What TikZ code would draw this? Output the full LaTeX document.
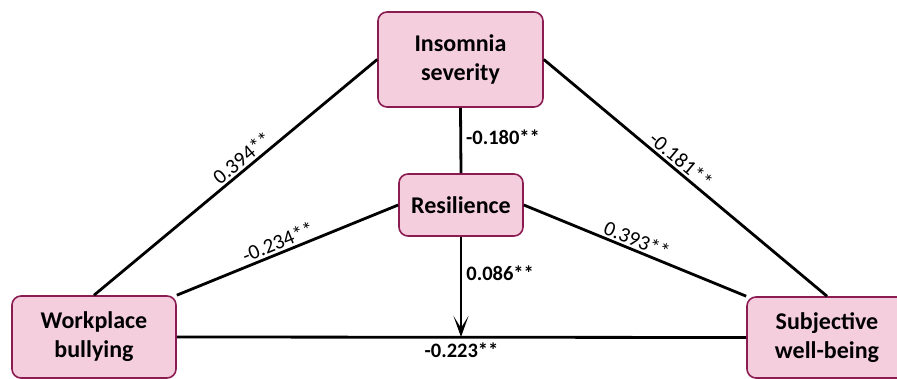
\documentclass[tikz,border=0pt]{standalone}
\usepackage{fontspec}
\setmainfont{Carlito}
\usetikzlibrary{arrows.meta}
\definecolor{boxfill}{RGB}{245,206,222}
\definecolor{boxdraw}{RGB}{138,28,82}
\begin{document}
\begin{tikzpicture}[x=1pt,y=-1pt,
  box/.style={draw=boxdraw, fill=boxfill, line width=1.6pt, rounded corners=9pt, align=center,
    font=\fontsize{24}{29}\selectfont\bfseries, inner sep=0pt},
  link/.style={line width=2.8pt, black},
  lab/.style={font=\fontsize{21}{24}\selectfont, inner sep=1pt},
  blab/.style={font=\fontsize{20.5}{24}\selectfont\bfseries, inner sep=2pt}]
\useasboundingbox (0,0) rectangle (897,379);
\path (460.5,59.5) node[box, minimum width=165pt, minimum height=95pt] (I) {Insomnia\\severity};
\path (461,205) node[box, minimum width=124pt, minimum height=62pt] (R) {Resilience};
\path (94,337) node[box, minimum width=164pt, minimum height=82pt] (W) {Workplace\\bullying};
\path (827,337.5) node[box, minimum width=160pt, minimum height=81pt] (S) {Subjective\\well-being};
\coordinate (M) at (R.south |- W.east);
\draw[link] (W.north) -- node[lab, sloped, above=1pt, pos=0.547] {0.394**} (I.west);
\draw[link] (I.east) -- node[lab, sloped, above=1pt, pos=0.46] {-0.181**} (S.north);
\draw[link] (I.south) -- node[blab, right=2pt, pos=0.45] {-0.180**} (R.north);
\draw[link] (W.north east) -- node[lab, sloped, above=1pt, pos=0.475] {-0.234**} (R.west);
\draw[link] (R.east) -- node[lab, sloped, above=1pt, pos=0.49] {0.393**} (S.north west);
\draw[link] (W.east) -- node[blab, below=2pt, pos=0.5] {-0.223**} (S.west);
\draw[link, -{Stealth[length=21pt, width=15pt, inset=12pt]}] (R.south) -- node[blab, right=2pt, pos=0.36] {0.086**} (M);
\end{tikzpicture}
\end{document}
